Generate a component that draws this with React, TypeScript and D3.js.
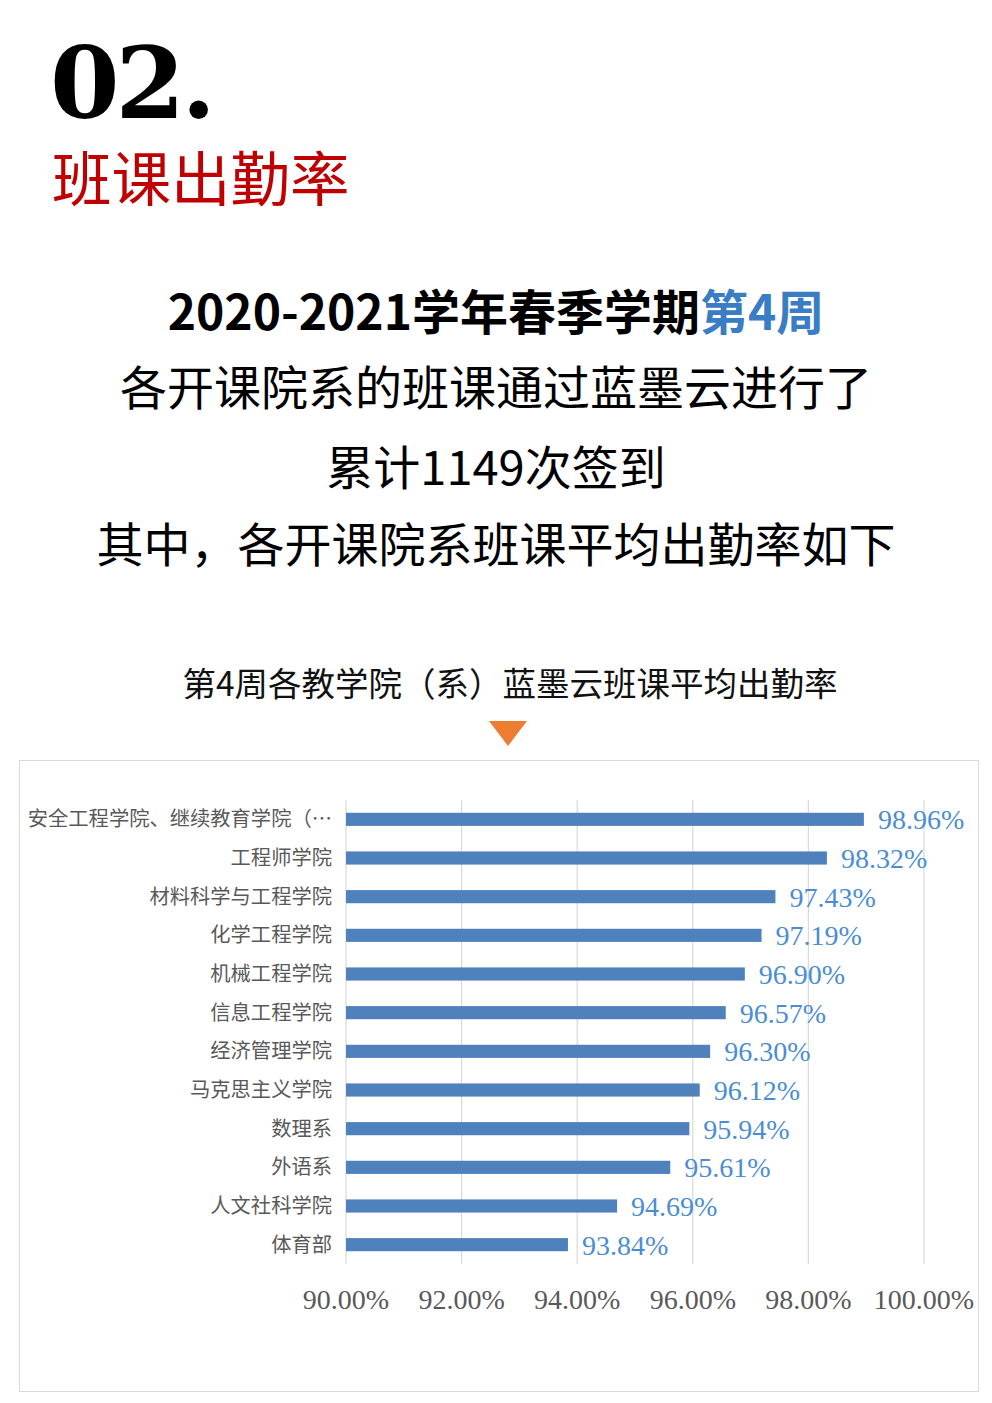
import React, { useEffect, useRef } from 'react';
import * as d3 from 'd3';

const colleges = [
  '安全工程学院、继续教育学院（…',
  '工程师学院',
  '材料科学与工程学院',
  '化学工程学院',
  '机械工程学院',
  '信息工程学院',
  '经济管理学院',
  '马克思主义学院',
  '数理系',
  '外语系',
  '人文社科学院',
  '体育部',
];
const rates = [98.96, 98.32, 97.43, 97.19, 96.9, 96.57, 96.3, 96.12, 95.94, 95.61, 94.69, 93.84];
const ticks = [90, 92, 94, 96, 98, 100];

const W = 992;
const H = 1403;
const CJK = '"Noto Sans CJK SC", "Noto Sans", sans-serif';
const SERIF = '"Liberation Serif", "DejaVu Serif", serif';

export default function App() {
  const svgRef = useRef<SVGSVGElement>(null);

  useEffect(() => {
    if (!svgRef.current) return;
    const svg = d3.select(svgRef.current);
    svg.selectAll('*').remove();

    // header
    svg.append('text')
      .attr('x', 50).attr('y', 118)
      .attr('font-family', '"DejaVu Serif", serif')
      .attr('font-weight', 'bold')
      .attr('font-size', 100)
      .attr('letter-spacing', -4)
      .attr('fill', '#000')
      .text('02.');

    svg.append('text')
      .attr('x', 52).attr('y', 201)
      .attr('font-family', CJK)
      .attr('font-size', 59.5)
      .attr('fill', '#c00000')
      .text('班课出勤率');

    const l1 = svg.append('text')
      .attr('x', 496).attr('y', 330)
      .attr('text-anchor', 'middle')
      .attr('font-family', CJK)
      .attr('font-weight', 'bold')
      .attr('font-size', 48)
      .attr('fill', '#000');
    l1.append('tspan').text('2020-2021学年春季学期');
    l1.append('tspan').attr('fill', '#3b7dc4').text('第4周');

    const lines = ['各开课院系的班课通过蓝墨云进行了', '累计1149次签到', '其中，各开课院系班课平均出勤率如下'];
    const lineY = [405, 485, 562];
    lines.forEach((t, i) => {
      svg.append('text')
        .attr('x', 496).attr('y', lineY[i])
        .attr('text-anchor', 'middle')
        .attr('font-family', CJK)
        .attr('font-size', 47)
        .attr('fill', '#000')
        .text(t);
    });

    svg.append('text')
      .attr('x', 510).attr('y', 696)
      .attr('text-anchor', 'middle')
      .attr('font-family', CJK)
      .attr('font-size', 33.5)
      .attr('fill', '#111')
      .text('第4周各教学院（系）蓝墨云班课平均出勤率');

    svg.append('path')
      .attr('d', 'M489,721 L527,721 L508,746 Z')
      .attr('fill', '#ed7d31');

    // chart frame
    svg.append('rect')
      .attr('x', 19.5).attr('y', 760.5)
      .attr('width', 959).attr('height', 631)
      .attr('fill', '#fff')
      .attr('stroke', '#d9d9d9');

    const x = d3.scaleLinear().domain([90, 100]).range([346, 924]);
    const y = d3.scaleBand<string>().domain(colleges).range([800, 1264]).paddingInner(0.66).paddingOuter(0.33);

    const g = svg.append('g');
    g.selectAll('.grid')
      .data(ticks)
      .enter()
      .append('line')
      .attr('x1', d => x(d)).attr('x2', d => x(d))
      .attr('y1', 800).attr('y2', 1264)
      .attr('stroke', '#d9d9d9')
      .attr('stroke-width', 1.2);

    g.selectAll('.bar')
      .data(rates)
      .enter()
      .append('rect')
      .attr('x', x(90))
      .attr('y', (d, i) => y(colleges[i])!)
      .attr('width', d => x(d) - x(90))
      .attr('height', y.bandwidth())
      .attr('fill', '#4f81bd');

    g.selectAll('.val')
      .data(rates)
      .enter()
      .append('text')
      .attr('x', d => x(d) + 14)
      .attr('y', (d, i) => y(colleges[i])! + y.bandwidth() / 2 + 10)
      .attr('font-family', SERIF)
      .attr('font-size', 28)
      .attr('fill', '#4a8dd4')
      .text(d => d.toFixed(2) + '%');

    g.selectAll('.cat')
      .data(colleges)
      .enter()
      .append('text')
      .attr('x', 332)
      .attr('y', d => y(d)! + y.bandwidth() / 2 + 7)
      .attr('text-anchor', 'end')
      .attr('font-family', CJK)
      .attr('font-size', 20.3)
      .attr('fill', '#595959')
      .text(d => d);

    g.selectAll('.tick')
      .data(ticks)
      .enter()
      .append('text')
      .attr('x', d => x(d))
      .attr('y', 1309)
      .attr('text-anchor', 'middle')
      .attr('font-family', SERIF)
      .attr('font-size', 28)
      .attr('fill', '#595959')
      .text(d => d.toFixed(2) + '%');
  }, []);

  return (
    <div>
      <svg ref={svgRef} width={W} height={H} style={{ display: 'block', position: 'absolute', left: 0, top: 0 }} />
    </div>
  );
}
